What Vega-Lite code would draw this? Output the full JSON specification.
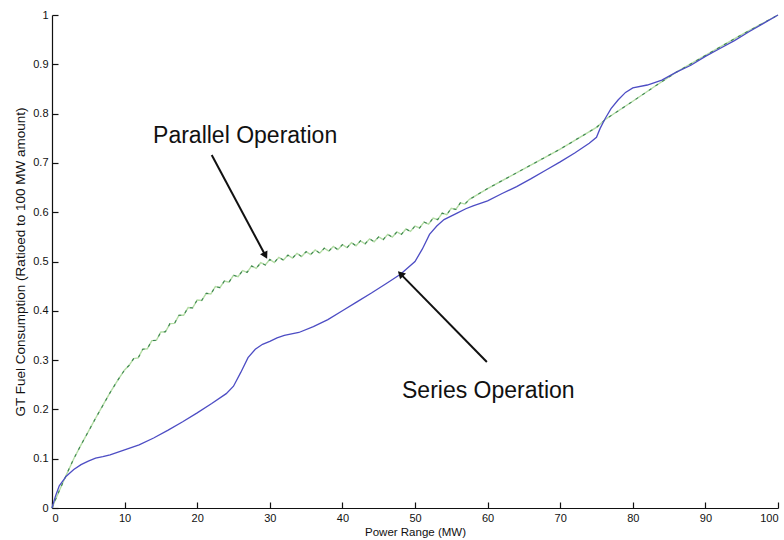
{
  "$schema": "https://vega.github.io/schema/vega-lite/v6.json",
  "autosize": "none",
  "width": 726,
  "height": 493,
  "padding": {"left": 52, "top": 15, "right": 6, "bottom": 32},
  "background": "white",
  "config": {
    "view": {"stroke": null},
    "font": "Liberation Sans",
    "axis": {
      "grid": false,
      "domainColor": "#111",
      "domainWidth": 1.2,
      "tickColor": "#111",
      "tickWidth": 1.2,
      "tickSize": -6,
      "labelFont": "Liberation Sans",
      "labelFontSize": 11,
      "labelColor": "#111",
      "titleFont": "Liberation Sans",
      "titleFontWeight": "normal",
      "titleColor": "#111"
    }
  },
  "datasets": {
    "series": [
      {"mw": 0, "fuel": 0}, {"mw": 0.5, "fuel": 0.025}, {"mw": 1, "fuel": 0.045}, {"mw": 2, "fuel": 0.065},
      {"mw": 3, "fuel": 0.078}, {"mw": 4, "fuel": 0.088}, {"mw": 5, "fuel": 0.095}, {"mw": 6, "fuel": 0.101},
      {"mw": 7, "fuel": 0.104}, {"mw": 8, "fuel": 0.108}, {"mw": 10, "fuel": 0.118}, {"mw": 12, "fuel": 0.128},
      {"mw": 14, "fuel": 0.142}, {"mw": 16, "fuel": 0.158}, {"mw": 18, "fuel": 0.175}, {"mw": 20, "fuel": 0.193},
      {"mw": 22, "fuel": 0.212}, {"mw": 24, "fuel": 0.232}, {"mw": 25, "fuel": 0.247}, {"mw": 26, "fuel": 0.275},
      {"mw": 27, "fuel": 0.305}, {"mw": 28, "fuel": 0.322}, {"mw": 29, "fuel": 0.332}, {"mw": 30, "fuel": 0.338},
      {"mw": 31, "fuel": 0.345}, {"mw": 32, "fuel": 0.35}, {"mw": 34, "fuel": 0.356}, {"mw": 36, "fuel": 0.368},
      {"mw": 38, "fuel": 0.382}, {"mw": 40, "fuel": 0.4}, {"mw": 42, "fuel": 0.418}, {"mw": 44, "fuel": 0.436},
      {"mw": 46, "fuel": 0.455}, {"mw": 48, "fuel": 0.474}, {"mw": 50, "fuel": 0.5}, {"mw": 51, "fuel": 0.525},
      {"mw": 52, "fuel": 0.555}, {"mw": 53, "fuel": 0.572}, {"mw": 54, "fuel": 0.585}, {"mw": 55.8, "fuel": 0.598},
      {"mw": 57, "fuel": 0.607}, {"mw": 58, "fuel": 0.613}, {"mw": 60, "fuel": 0.623}, {"mw": 62, "fuel": 0.638},
      {"mw": 64, "fuel": 0.652}, {"mw": 66, "fuel": 0.668}, {"mw": 68, "fuel": 0.685}, {"mw": 70, "fuel": 0.702},
      {"mw": 72, "fuel": 0.72}, {"mw": 74, "fuel": 0.74}, {"mw": 75, "fuel": 0.752}, {"mw": 75.5, "fuel": 0.77},
      {"mw": 76.2, "fuel": 0.79}, {"mw": 77, "fuel": 0.81}, {"mw": 78, "fuel": 0.828}, {"mw": 79, "fuel": 0.843},
      {"mw": 80, "fuel": 0.852}, {"mw": 82, "fuel": 0.858}, {"mw": 84, "fuel": 0.868}, {"mw": 86, "fuel": 0.884},
      {"mw": 88, "fuel": 0.898}, {"mw": 90, "fuel": 0.916}, {"mw": 92, "fuel": 0.932}, {"mw": 94, "fuel": 0.948},
      {"mw": 96, "fuel": 0.966}, {"mw": 98, "fuel": 0.983}, {"mw": 100, "fuel": 1.0}
    ],
    "parallel": [
      {"mw": 0, "fuel": 0}, {"mw": 1, "fuel": 0.035}, {"mw": 2, "fuel": 0.068}, {"mw": 3, "fuel": 0.1},
      {"mw": 4, "fuel": 0.128}, {"mw": 5, "fuel": 0.155}, {"mw": 6, "fuel": 0.182}, {"mw": 7, "fuel": 0.208},
      {"mw": 8, "fuel": 0.234}, {"mw": 9, "fuel": 0.258}, {"mw": 10, "fuel": 0.28}, {"mw": 10.625, "fuel": 0.2895},
      {"mw": 11.25, "fuel": 0.303}, {"mw": 11.875, "fuel": 0.3045}, {"mw": 12.5, "fuel": 0.322}, {"mw": 13.125, "fuel": 0.323},
      {"mw": 13.75, "fuel": 0.3395}, {"mw": 14.375, "fuel": 0.34}, {"mw": 15, "fuel": 0.357}, {"mw": 15.625, "fuel": 0.3575},
      {"mw": 16.25, "fuel": 0.374}, {"mw": 16.875, "fuel": 0.3745}, {"mw": 17.5, "fuel": 0.391}, {"mw": 18.125, "fuel": 0.391},
      {"mw": 18.75, "fuel": 0.4065}, {"mw": 19.375, "fuel": 0.406}, {"mw": 20, "fuel": 0.422}, {"mw": 20.625, "fuel": 0.421},
      {"mw": 21.25, "fuel": 0.4355}, {"mw": 21.875, "fuel": 0.434}, {"mw": 22.5, "fuel": 0.449}, {"mw": 23.125, "fuel": 0.447},
      {"mw": 23.75, "fuel": 0.4605}, {"mw": 24.375, "fuel": 0.458}, {"mw": 25, "fuel": 0.472}, {"mw": 25.625, "fuel": 0.469},
      {"mw": 26.25, "fuel": 0.4815}, {"mw": 26.875, "fuel": 0.478}, {"mw": 27.5, "fuel": 0.491}, {"mw": 28.125, "fuel": 0.486},
      {"mw": 28.75, "fuel": 0.4975}, {"mw": 29.375, "fuel": 0.493}, {"mw": 30, "fuel": 0.504}, {"mw": 30.625, "fuel": 0.498},
      {"mw": 31.25, "fuel": 0.5085}, {"mw": 31.875, "fuel": 0.503}, {"mw": 32.5, "fuel": 0.513}, {"mw": 33.125, "fuel": 0.507},
      {"mw": 33.75, "fuel": 0.5165}, {"mw": 34.375, "fuel": 0.51}, {"mw": 35, "fuel": 0.52}, {"mw": 35.625, "fuel": 0.514},
      {"mw": 36.25, "fuel": 0.5235}, {"mw": 36.875, "fuel": 0.517}, {"mw": 37.5, "fuel": 0.527}, {"mw": 38.125, "fuel": 0.521},
      {"mw": 38.75, "fuel": 0.5305}, {"mw": 39.375, "fuel": 0.524}, {"mw": 40, "fuel": 0.534}, {"mw": 40.625, "fuel": 0.528},
      {"mw": 41.25, "fuel": 0.538}, {"mw": 41.875, "fuel": 0.532}, {"mw": 42.5, "fuel": 0.542}, {"mw": 43.125, "fuel": 0.536},
      {"mw": 43.75, "fuel": 0.546}, {"mw": 44.375, "fuel": 0.54}, {"mw": 45, "fuel": 0.55}, {"mw": 45.625, "fuel": 0.5445},
      {"mw": 46.25, "fuel": 0.555}, {"mw": 46.875, "fuel": 0.5495}, {"mw": 47.5, "fuel": 0.56}, {"mw": 48.125, "fuel": 0.555},
      {"mw": 48.75, "fuel": 0.566}, {"mw": 49.375, "fuel": 0.561}, {"mw": 50, "fuel": 0.572}, {"mw": 50.625, "fuel": 0.568},
      {"mw": 51.25, "fuel": 0.58}, {"mw": 51.875, "fuel": 0.576}, {"mw": 52.5, "fuel": 0.588}, {"mw": 53.125, "fuel": 0.585},
      {"mw": 53.75, "fuel": 0.598}, {"mw": 54.375, "fuel": 0.595}, {"mw": 55, "fuel": 0.608}, {"mw": 55.625, "fuel": 0.6055},
      {"mw": 56.25, "fuel": 0.619}, {"mw": 56.875, "fuel": 0.6165}, {"mw": 57.5, "fuel": 0.626}, {"mw": 60, "fuel": 0.648},
      {"mw": 65, "fuel": 0.688}, {"mw": 70, "fuel": 0.728}, {"mw": 75, "fuel": 0.772}, {"mw": 76.2, "fuel": 0.788},
      {"mw": 80, "fuel": 0.825}, {"mw": 83, "fuel": 0.855}, {"mw": 86, "fuel": 0.884}, {"mw": 90, "fuel": 0.918},
      {"mw": 95, "fuel": 0.96}, {"mw": 100, "fuel": 1.0}
    ],
    "arrows": [
      {"label": "Parallel Operation", "x0": 22.0, "y0": 0.716, "x1": 29.4, "y1": 0.512, "tx": 26.6, "ty": 0.74, "dir": 152},
      {"label": "Series Operation", "x0": 59.9, "y0": 0.296, "x1": 48.0, "y1": 0.475, "tx": 60.1, "ty": 0.223, "dir": 315}
    ]
  },
  "layer": [
    {
      "data": {"name": "parallel"},
      "mark": {"type": "line", "color": "#b3dca4", "strokeWidth": 1.4},
      "encoding": {
        "x": {
          "field": "mw", "type": "quantitative",
          "scale": {"domain": [0, 100], "nice": false},
          "axis": {"title": "Power Range (MW)", "format": "d", "titleFontSize": 11.5, "values": [0, 10, 20, 30, 40, 50, 60, 70, 80, 90, 100], "labelPadding": 10, "titlePadding": 3}
        },
        "y": {
          "field": "fuel", "type": "quantitative",
          "scale": {"domain": [0, 1], "nice": false},
          "axis": {"title": "GT Fuel Consumption (Ratioed to 100 MW amount)", "format": "~g", "titleFontSize": 13.5, "values": [0, 0.1, 0.2, 0.3, 0.4, 0.5, 0.6, 0.7, 0.8, 0.9, 1], "labelPadding": 10, "titlePadding": 5}
        }
      }
    },
    {
      "data": {"name": "parallel"},
      "mark": {"type": "line", "color": "#3d8452", "strokeWidth": 1.1, "strokeDash": [3, 5]},
      "encoding": {
        "x": {"field": "mw", "type": "quantitative"},
        "y": {"field": "fuel", "type": "quantitative"}
      }
    },
    {
      "data": {"name": "series"},
      "mark": {"type": "line", "color": "#4d4dc4", "strokeWidth": 1.3},
      "encoding": {
        "x": {"field": "mw", "type": "quantitative"},
        "y": {"field": "fuel", "type": "quantitative"}
      }
    },
    {
      "data": {"name": "arrows"},
      "mark": {"type": "rule", "color": "#111", "strokeWidth": 2},
      "encoding": {
        "x": {"field": "x0", "type": "quantitative"},
        "y": {"field": "y0", "type": "quantitative"},
        "x2": {"field": "x1"},
        "y2": {"field": "y1"}
      }
    },
    {
      "data": {"name": "arrows"},
      "mark": {"type": "point", "shape": "triangle-up", "filled": true, "color": "#111", "size": 70, "opacity": 1},
      "encoding": {
        "x": {"field": "x1", "type": "quantitative"},
        "y": {"field": "y1", "type": "quantitative"},
        "angle": {"field": "dir", "type": "quantitative", "scale": null}
      }
    },
    {
      "data": {"name": "arrows"},
      "mark": {"type": "text", "font": "Liberation Sans", "fontSize": 23, "color": "#111", "align": "center", "baseline": "alphabetic"},
      "encoding": {
        "x": {"field": "tx", "type": "quantitative"},
        "y": {"field": "ty", "type": "quantitative"},
        "text": {"field": "label"}
      }
    }
  ]
}
